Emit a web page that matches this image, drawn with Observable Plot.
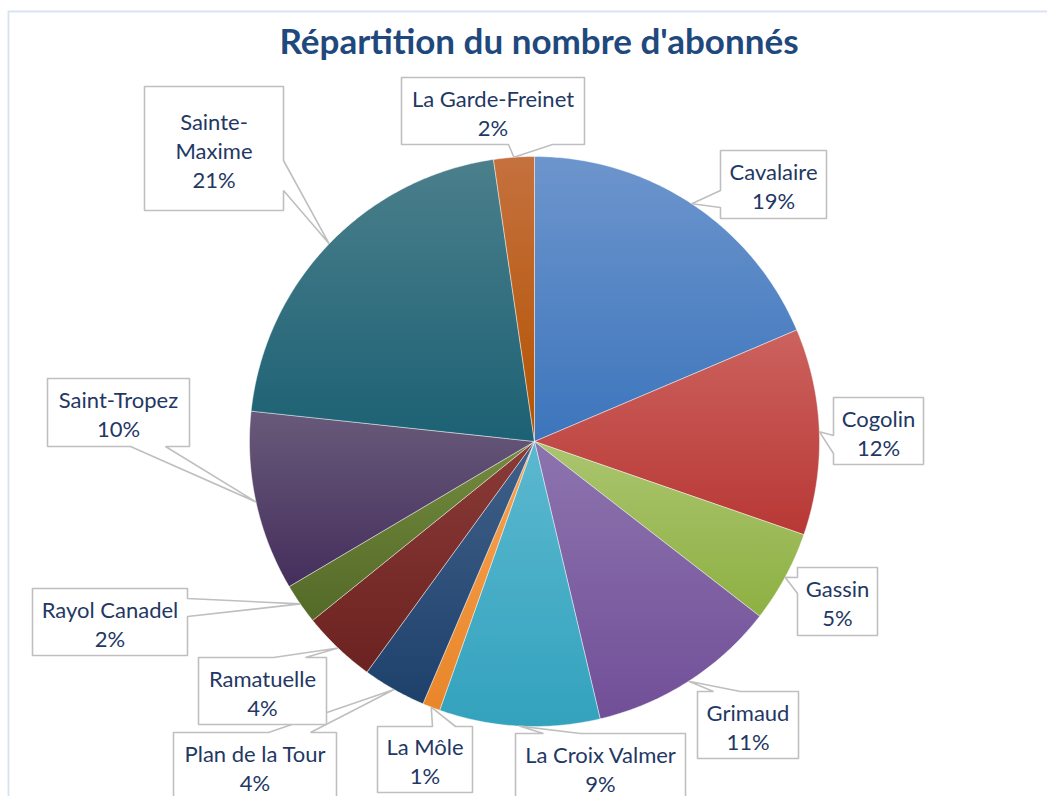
<!DOCTYPE html>
<html>
<head>
<meta charset="utf-8">
<script src="https://cdn.jsdelivr.net/npm/d3@7"></script>
<script src="https://cdn.jsdelivr.net/npm/@observablehq/plot@0.6"></script>
<style>
  html, body { margin: 0; padding: 0; background: #fff; }
  svg { display: block; }
</style>
</head>
<body>
<div id="chart"></div>
<script>
// ---- Data ----
const title = "Répartition du nombre d'abonnés";
const communes = ["Cavalaire", "Cogolin", "Gassin", "Grimaud", "La Croix Valmer", "La Môle",
  "Plan de la Tour", "Ramatuelle", "Rayol Canadel", "Saint-Tropez", "Sainte-Maxime", "La Garde-Freinet"];
const shares = [18.6, 11.7, 5.2, 10.8, 9.1, 1.0, 3.6, 4.2, 2.3, 10.2, 21.0, 2.3];

// ---- Styles ----
const lightColors = ["#6d95cd", "#cc625e", "#abc56f", "#8d74ae", "#5cb8d0", "#f9a253",
  "#3f6089", "#8b3b38", "#748b3f", "#685a7a", "#4b7f8c", "#c5713f"];
const darkColors = ["#3c75bc", "#b83835", "#8db042", "#714f98", "#33a2bd", "#e88629",
  "#1e416b", "#6b2220", "#536927", "#452e5c", "#1c6174", "#b35300"];

// ---- Layout (callout boxes, page pixels): [x0, y0, x1, y1], wedge side, wedge base [b0, b1] ----
const CX = 534, CY = 441, R = 285, W = 1047, H = 796;
const calloutBoxes = [
  [720, 150, 826, 218], [833, 397, 923, 464], [797, 567, 877, 635], [697, 691, 798, 758],
  [515, 733, 685, 800], [377, 726, 472, 792], [173, 732, 336, 799], [198, 657, 326, 724],
  [32, 588, 187, 655], [47, 378, 189, 446], [144, 86, 283, 210], [401, 77, 584, 144]
];
const calloutSides = ["left", "left", "left", "top", "top", "top", "top", "top", "right", "bottom", "right", "bottom"];
const calloutBases = [[190, 207], [435, 453], [577, 593], [713, 740], [543, 580], [432, 455],
  [268, 310], [273, 305], [598, 616], [130, 165], [160, 190], [508, 552]];

// ---- Derived ----
const total = d3.sum(shares);
const fmt = d3.format(".0%");
const toX = px => (px - CX) / R;
const toY = py => (CY - py) / R;

let acc = 0;
const slices = communes.map((name, i) => {
  const a0 = acc / total * 2 * Math.PI;
  acc += shares[i];
  const a1 = acc / total * 2 * Math.PI;
  return {name, i, a0, a1, mid: (a0 + a1) / 2, label: name.replace("Sainte-", "Sainte-\n") + "\n" + fmt(shares[i] / total)};
});

function slicePoints(s) {
  const pts = [{x: 0, y: 0}];
  const n = Math.max(2, Math.ceil((s.a1 - s.a0) / (Math.PI / 360)));
  for (let k = 0; k <= n; k++) {
    const a = s.a0 + (s.a1 - s.a0) * k / n;
    pts.push({x: Math.sin(a), y: Math.cos(a)});
  }
  pts.push({x: 0, y: 0});
  return pts;
}

function calloutPoints(s) {
  const [x0, y0, x1, y1] = calloutBoxes[s.i];
  const [b0, b1] = calloutBases[s.i];
  const tip = {x: Math.sin(s.mid), y: Math.cos(s.mid)};
  const P = (px, py) => ({x: toX(px), y: toY(py)});
  let pts;
  switch (calloutSides[s.i]) {
    case "top": pts = [P(x0, y0), P(b0, y0), tip, P(b1, y0), P(x1, y0), P(x1, y1), P(x0, y1)]; break;
    case "right": pts = [P(x0, y0), P(x1, y0), P(x1, b0), tip, P(x1, b1), P(x1, y1), P(x0, y1)]; break;
    case "bottom": pts = [P(x0, y0), P(x1, y0), P(x1, y1), P(b1, y1), tip, P(b0, y1), P(x0, y1)]; break;
    default: pts = [P(x0, y0), P(x1, y0), P(x1, y1), P(x0, y1), P(x0, b1), tip, P(x0, b0)];
  }
  pts.push(pts[0]);
  return pts.map(p => ({...p, id: s.i}));
}

const labelData = slices.map(s => {
  const [x0, y0, x1, y1] = calloutBoxes[s.i];
  return {x: toX((x0 + x1) / 2), y: toY((y0 + y1) / 2 + 1), text: s.label};
});

const font = "Lato, 'Liberation Sans', sans-serif";

const marks = [
  Plot.frame({stroke: "#d6e2f3", strokeWidth: 1.8, insetLeft: 8, insetTop: 11, insetRight: -20, insetBottom: -20}),
  ...slices.map(s => Plot.line(slicePoints(s), {
    x: "x", y: "y", fill: `url(#grad${s.i})`, stroke: "white", strokeOpacity: 0.55, strokeWidth: 0.8, curve: "linear"
  })),
  ...slices.map(s => Plot.line(calloutPoints(s), {
    x: "x", y: "y", z: "id", fill: "white", stroke: "#bfbfbf", strokeWidth: 1.6, strokeLinejoin: "miter", curve: "linear"
  })),
  Plot.text(labelData, {
    x: "x", y: "y", text: "text", fontSize: 22, lineHeight: 1.32, fill: "#1f3864",
    fontFamily: font, textAnchor: "middle", lineAnchor: "middle"
  }),
  Plot.text([title], {
    frameAnchor: "top", dx: 15, dy: 42, lineAnchor: "middle", text: d => d,
    fontSize: 35, fontWeight: "bold", fill: "#1f497d", fontFamily: font
  })
];

const chart = Plot.plot({
  width: W, height: H,
  margin: 0,
  x: {domain: [toX(0), toX(W)], axis: null},
  y: {domain: [toY(H), toY(0)], axis: null},
  style: {background: "white", overflow: "hidden"},
  marks
});

const defs = d3.select(chart).insert("defs", ":first-child");
slices.forEach(s => {
  const g = defs.append("linearGradient").attr("id", `grad${s.i}`)
    .attr("x1", 0).attr("y1", 0).attr("x2", 0).attr("y2", 1);
  g.append("stop").attr("offset", "0%").attr("stop-color", lightColors[s.i]);
  g.append("stop").attr("offset", "100%").attr("stop-color", darkColors[s.i]);
});

document.getElementById("chart").appendChild(chart);
</script>
</body>
</html>
